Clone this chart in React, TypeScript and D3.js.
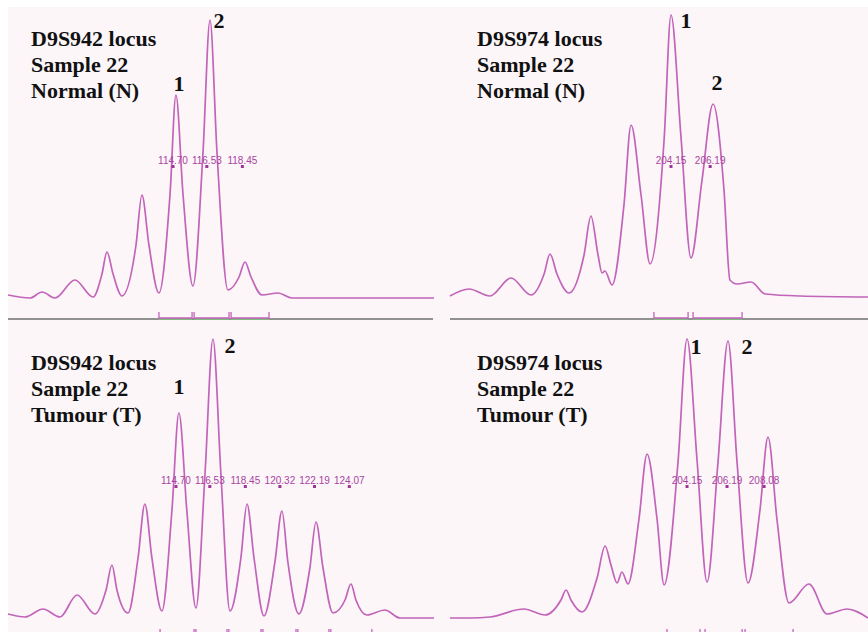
import * as d3 from "d3";

// ---- data (size in bp, signal in RFU) ----

// D9S942, sample 22, normal
const n942Bp = [105.78, 106.97, 107.62, 108.32, 109.4, 110.38, 110.86, 111.13, 111.46, 111.94, 112.7, 113.02, 113.4, 113.94, 114.54, 114.86, 115.24, 115.78, 116.32, 116.7, 117.08, 117.67, 118.27, 118.59, 118.92, 119.51, 120.38, 121.13, 123.73, 128.81];
const n942Rfu = [30, 0, 60, 0, 180, 10, 240, 460, 240, 20, 530, 1030, 530, 50, 1040, 2030, 1040, 120, 1450, 2780, 1450, 80, 210, 360, 210, 30, 50, 0, 0, 0];
const n942Sizes = ["114.70", "116.53", "118.45"];
const n942Bins = [[113.94, 115.73], [115.84, 117.73], [117.84, 119.89]];
const n942Alleles = [114.86, 116.7];

// D9S974, sample 22, normal
const n974Bp = [192.64, 193.63, 194.72, 195.82, 196.86, 197.54, 197.85, 198.21, 198.84, 199.62, 199.98, 200.35, 200.56, 200.71, 201.08, 201.7, 202.07, 202.59, 203.06, 203.79, 204.15, 204.67, 205.19, 205.76, 206.34, 206.91, 207.22, 207.59, 208.32, 209.05, 210.87, 214.41];
const n974Rfu = [20, 90, 20, 200, 30, 240, 440, 240, 50, 430, 820, 430, 250, 270, 130, 930, 1730, 1030, 340, 1580, 2830, 1610, 400, 1170, 1940, 1080, 180, 140, 160, 40, 20, 10];
const n974Sizes = ["204.15", "206.19"];
const n974Bins = [[203.26, 205.04], [205.3, 207.85]];
const n974Alleles = [204.15, 206.34];

// D9S942, sample 22, tumour
const t942Bp = [105.62, 106.54, 107.51, 108.43, 109.35, 110.32, 110.92, 111.24, 111.51, 112.11, 112.65, 113.02, 113.4, 113.94, 114.48, 114.86, 115.29, 115.78, 116.27, 116.7, 117.13, 117.62, 118.21, 118.54, 118.92, 119.46, 120.05, 120.43, 120.75, 121.35, 121.94, 122.27, 122.65, 123.19, 123.84, 124.16, 124.43, 125.02, 126.0, 126.81, 128.65];
const t942Rfu = [40, 10, 90, 10, 230, 40, 280, 530, 280, 50, 600, 1140, 600, 70, 1070, 2050, 1070, 100, 1440, 2790, 1440, 70, 600, 1140, 600, 20, 560, 1070, 560, 40, 500, 960, 500, 50, 180, 340, 180, 30, 80, 0, 0];
const t942Sizes = ["114.70", "116.53", "118.45", "120.32", "122.19", "124.07"];
const t942Bins = [[113.84, 115.68], [115.78, 117.46], [117.56, 119.3], [119.4, 121.19], [121.29, 122.97], [123.07, 125.29]];
const t942Alleles = [114.86, 116.7];

// D9S974, sample 22, tumour
const t974Bp = [192.06, 193.08, 194.1, 195.83, 196.91, 197.72, 197.98, 198.23, 198.79, 199.56, 199.97, 200.27, 200.58, 200.83, 201.14, 201.7, 202.11, 202.62, 202.98, 203.69, 204.15, 204.66, 205.17, 205.73, 206.24, 206.7, 207.26, 207.87, 208.28, 208.74, 209.35, 210.37, 211.29, 212.31, 213.38];
const t974Rfu = [0, 0, 10, 90, 30, 180, 280, 180, 60, 400, 720, 530, 350, 460, 340, 990, 1640, 990, 330, 1560, 2790, 1580, 360, 1560, 2770, 1560, 350, 1080, 1810, 980, 150, 340, 40, 90, 0];
const t974Sizes = ["204.15", "206.19", "208.08"];
const t974Bins = [[203.13, 204.81], [205.07, 206.96], [207.11, 209.56]];
const t974Alleles = [204.15, 206.24];

const titles942N = ["D9S942 locus", "Sample 22", "Normal (N)"];
const titles974N = ["D9S974 locus", "Sample 22", "Normal (N)"];
const titles942T = ["D9S942 locus", "Sample 22", "Tumour (T)"];
const titles974T = ["D9S974 locus", "Sample 22", "Tumour (T)"];
const alleleNames = ["1", "2"];

const W = 868;
const H = 632;
const TRACE = "#c264b9";
const LABEL = "#a844a0";

const panels = [
  { id: "n942", x0: 8, x1: 434, base: 298, bp: n942Bp, rfu: n942Rfu, sizes: n942Sizes, bins: n942Bins, alleles: n942Alleles, titles: titles942N, tx: 31, ty: 46, binOff: 14, sep: true, nameOff: [[3, -4], [9, 8]] },
  { id: "n974", x0: 450, x1: 868, base: 298, bp: n974Bp, rfu: n974Rfu, sizes: n974Sizes, bins: n974Bins, alleles: n974Alleles, titles: titles974N, tx: 477, ty: 46, binOff: 14, sep: true, nameOff: [[15, 13], [4, -14]] },
  { id: "t942", x0: 8, x1: 434, base: 618, bp: t942Bp, rfu: t942Rfu, sizes: t942Sizes, bins: t942Bins, alleles: t942Alleles, titles: titles942T, tx: 31, ty: 370, binOff: 11, sep: false, nameOff: [[0, -19], [17, 14]] },
  { id: "t974", x0: 450, x1: 868, base: 618, bp: t974Bp, rfu: t974Rfu, sizes: t974Sizes, bins: t974Bins, alleles: t974Alleles, titles: titles974T, tx: 477, ty: 370, binOff: 11, sep: false, nameOff: [[9, 15], [19, 13]] },
];

function Panel({ p }: { p: any }) {
  const x = d3.scaleLinear().domain(d3.extent(p.bp) as [number, number]).range([p.x0, p.x1]);
  const y = d3.scaleLinear().domain([0, 2800]).range([p.base, p.base - 280]);
  const pts: [number, number][] = p.bp.map((b: number, i: number) => [b, p.rfu[i]]);
  const path = d3.line<[number, number]>()
    .x(d => x(d[0]))
    .y(d => y(d[1]))
    .curve(d3.curveMonotoneX)(pts);

  const sizeY = y(1320);
  const binTop = p.base + p.binOff;

  return (
    <g>
      {/* separator under the trace */}
      {p.sep && (
        <line x1={p.x0} x2={p.x1 - (p.x1 === 434 ? 1 : 0)} y1={p.base + 21} y2={p.base + 21} stroke="#6f6f6f" strokeWidth={1.6} />
      )}

      {/* bins */}
      {p.bins.map((b: number[], i: number) => (
        <g key={i}>
          {p.sep && (
            <line x1={x(b[0])} x2={x(b[1])} y1={binTop + 7.5} y2={binTop + 7.5} stroke="#7bbf7b" strokeWidth={1} />
          )}
          <path
            d={`M${x(b[0])},${binTop}V${binTop + 6}H${x(b[1])}V${binTop}`}
            fill="none"
            stroke={TRACE}
            strokeWidth={1.3}
          />
        </g>
      ))}

      {/* trace */}
      <path d={path ?? ""} fill="none" stroke={TRACE} strokeWidth={1.7} strokeLinejoin="round" />

      {/* size calls */}
      {p.sizes.map((s: string) => (
        <g key={s}>
          <text x={x(+s)} y={sizeY - 2.5} textAnchor="middle" fontFamily="Liberation Sans, Arial, sans-serif" fontSize={10} fill={LABEL}>
            {s}
          </text>
          <rect x={x(+s) - 1.5} y={sizeY - 1} width={3} height={3} fill="#9c3596" />
        </g>
      ))}

      {/* allele numbers */}
      {p.alleles.map((a: number, i: number) => {
        const k = p.bp.indexOf(a);
        return (
          <text
            key={i}
            x={x(a) + p.nameOff[i][0]}
            y={y(p.rfu[k]) + p.nameOff[i][1]}
            textAnchor="middle"
            fontFamily="Liberation Serif, Times New Roman, serif"
            fontWeight="bold"
            fontSize={22}
            fill="#111"
          >
            {alleleNames[i]}
          </text>
        );
      })}

      {/* locus / sample caption */}
      {p.titles.map((t: string, i: number) => (
        <text
          key={t}
          x={p.tx}
          y={p.ty + i * 26}
          fontFamily="Liberation Serif, Times New Roman, serif"
          fontWeight="bold"
          fontSize={22}
          fill="#111"
        >
          {t}
        </text>
      ))}
    </g>
  );
}

export default function App() {
  return (
    <svg width={W} height={H} style={{ position: "absolute", left: 0, top: 0, background: "#fff" }}>
      <rect x={8} y={7} width={W - 8} height={H - 7} fill="#fcf6f9" />
      {panels.map(p => (
        <Panel key={p.id} p={p} />
      ))}
    </svg>
  );
}
